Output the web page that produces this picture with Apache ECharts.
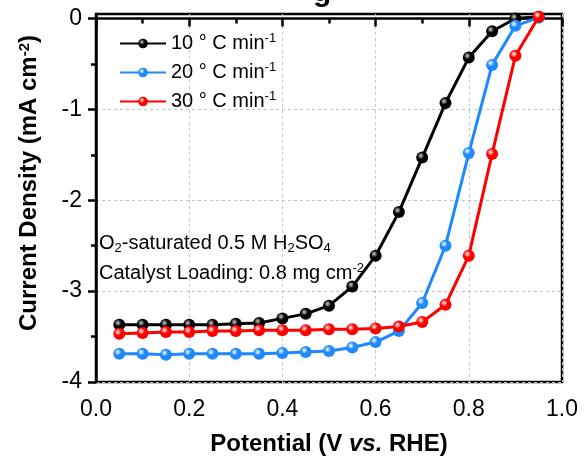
<!DOCTYPE html>
<html>
<head>
<meta charset="utf-8">
<script src="https://cdn.jsdelivr.net/npm/echarts@6/dist/echarts.min.js"></script>
<style>html,body{margin:0;padding:0;background:#fff}#c{width:585px;height:461px}</style>
</head>
<body>
<div id="c"></div>
<script>
const potential = [0.05,0.10,0.15,0.20,0.25,0.30,0.35,0.40,0.45,0.50,0.55,0.60,0.65,0.70,0.75,0.80,0.85,0.90,0.95];
const rate10 = [-3.37,-3.37,-3.37,-3.37,-3.37,-3.36,-3.35,-3.30,-3.25,-3.16,-2.95,-2.61,-2.13,-1.53,-0.93,-0.43,-0.14,0.00,0.02];
const rate20 = [-3.69,-3.69,-3.70,-3.69,-3.69,-3.69,-3.69,-3.68,-3.67,-3.66,-3.62,-3.56,-3.44,-3.13,-2.50,-1.48,-0.51,-0.08,0.01];
const rate30 = [-3.47,-3.46,-3.45,-3.45,-3.44,-3.44,-3.43,-3.43,-3.43,-3.42,-3.42,-3.41,-3.39,-3.34,-3.15,-2.61,-1.49,-0.41,0.02];
const seriesNames = ['10 \u00b0 C min', '20 \u00b0 C min', '30 \u00b0 C min'];
const seriesColors = ['#000000', '#1E88FF', '#FF0000'];
const yTicks = [-4, -3, -2, -1, 0];
const yMinorTicks = [-3.5, -2.5, -1.5, -0.5];

const FONT = 'Liberation Sans, Arial, sans-serif';
function gloss(c) {
  const hi = c === '#000000' ? '#d0d0d0' : '#ffffff';
  return {type:'radial', x:0.38, y:0.35, r:0.65, colorStops:[{offset:0,color:hi},{offset:0.45,color:c},{offset:1,color:c}]};
}
const datasets = [rate10, rate20, rate30];
const series = datasets.map((d, i) => ({
  name: seriesNames[i],
  type: 'line',
  data: potential.map((x, j) => [x, d[j]]),
  symbol: 'circle',
  symbolSize: 12,
  clip: false,
  z: 3 + i,
  lineStyle: {color: seriesColors[i], width: 3},
  itemStyle: {color: gloss(seriesColors[i]), borderWidth: 0},
  emphasis: {disabled: true}
}));

const chart = echarts.init(document.getElementById('c'), null, {renderer: 'canvas'});
chart.setOption({
  animation: false,
  backgroundColor: '#fff',
  textStyle: {fontFamily: FONT},
  grid: {left: 96, right: 23, top: 14, bottom: 78, show: true, borderColor: '#000', borderWidth: 2.5, backgroundColor: 'transparent'},
  legend: {
    left: 114, top: 27, orient: 'vertical', itemWidth: 46, itemHeight: 12, itemGap: 7.5,
    data: seriesNames,
    formatter: n => n + '{sup|-1}',
    textStyle: {fontFamily: FONT, fontSize: 20, color: '#000', rich: {sup: {fontFamily: FONT, fontSize: 13, color:'#000', padding: [0,0,10,0]}}}
  },
  xAxis: {
    type: 'value', min: 0, max: 1, interval: 0.2,
    name: 'Potential (V {i|vs.} RHE)', nameLocation: 'middle', nameGap: 50,
    nameTextStyle: {fontFamily: FONT, fontSize: 24, fontWeight: 'bold', color: '#000', rich: {i: {fontFamily: FONT, fontSize: 24, fontWeight: 'bold', fontStyle: 'italic', color: '#000'}}},
    axisLine: {show: true, lineStyle: {color: '#000', width: 2.5}},
    axisTick: {show: true, inside: false, length: 8, lineStyle: {color: '#000', width: 2.5}},
    minorTick: {show: true, splitNumber: 2, length: 5, lineStyle: {color: '#000', width: 2.5}},
    axisLabel: {fontFamily: FONT, fontSize: 23, color: '#000', margin: 16, formatter: v => v.toFixed(1)},
    splitLine: {show: true, lineStyle: {color: '#c4c4c4', width: 1, type: [3, 3]}}
  },
  yAxis: [{
    type: 'value', min: -4, max: 0.05,
    name: 'Current Density (mA cm{sup|-2})', nameLocation: 'middle', nameGap: 54, nameRotate: 90,
    nameTextStyle: {fontFamily: FONT, fontSize: 24, fontWeight: 'bold', color: '#000', padding: [0, 0, 0, 30], rich: {sup: {fontFamily: FONT, fontSize: 15, fontWeight: 'bold', color:'#000', padding: [0,0,10,0]}}},
    axisLine: {show: true, lineStyle: {color: '#000', width: 2.5}},
    axisTick: {show: true, inside: false, length: 8, customValues: yTicks, lineStyle: {color: '#000', width: 2.5}},
    minorTick: {show: false},
    axisLabel: {fontFamily: FONT, fontSize: 23, color: '#000', margin: 14, customValues: yTicks, formatter: v => String(v)},
    splitLine: {show: true, lineStyle: {color: '#c4c4c4', width: 1, type: [3, 3]}}
  }, {
    type: 'value', min: -4, max: 0.05, position: 'left',
    axisLine: {show: false},
    axisTick: {show: true, inside: false, length: 5, customValues: yMinorTicks, lineStyle: {color: '#000', width: 2.5}},
    axisLabel: {show: false},
    splitLine: {show: false}
  }],
  graphic: [
    {type: 'text', left: 313, top: -22, style: {text: 'g', font: 'bold 30px ' + FONT, fill: '#000'}},
    {type: 'text', left: 99, top: 233, style: {
      text: 'O{sub|2}-saturated 0.5 M H{sub|2}SO{sub|4}', font: '20px ' + FONT, fill: '#000',
      rich: {sub: {fontFamily: FONT, fontSize: 13, fill: '#000', padding: [10,0,0,0]}}
    }},
    {type: 'text', left: 99, top: 262, style: {
      text: 'Catalyst Loading: 0.8 mg cm{sup|-2}', font: '20px ' + FONT, fill: '#000',
      rich: {sup: {fontFamily: FONT, fontSize: 13, fill: '#000', padding: [0,0,10,0]}}
    }}
  ],
  series: series
});
</script>
</body>
</html>
